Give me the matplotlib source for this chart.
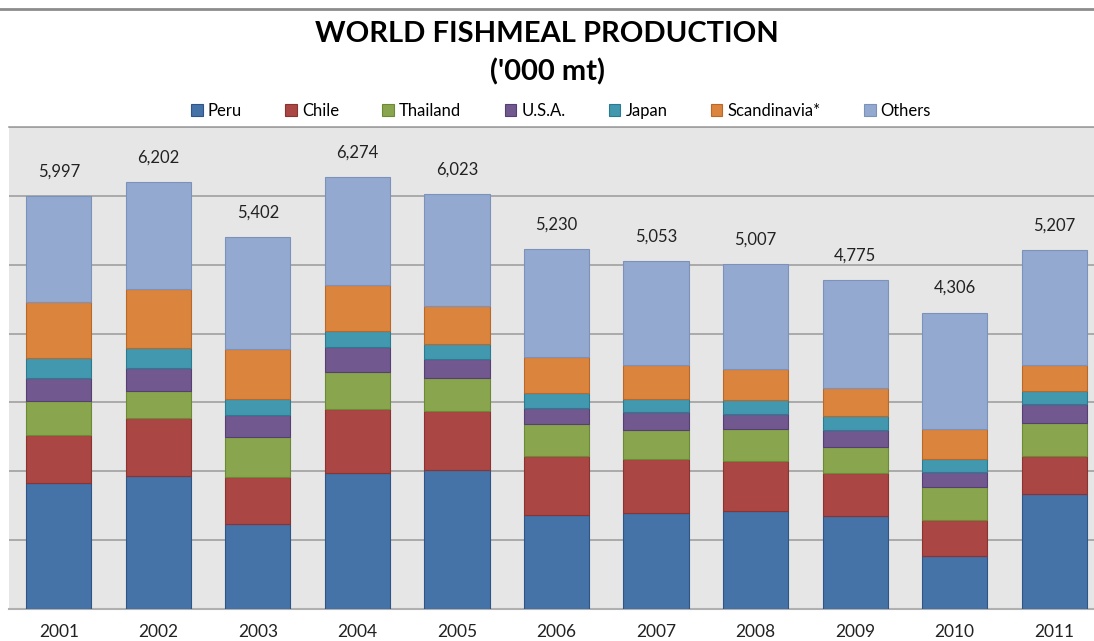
import numpy as np
import matplotlib
matplotlib.use("Agg")
import matplotlib.pyplot as plt
from matplotlib.lines import Line2D
from matplotlib.patches import Patch

plt.rcParams['font.family'] = ['Lato', 'DejaVu Sans']

years = ['2001', '2002', '2003', '2004', '2005', '2006', '2007', '2008', '2009', '2010', '2011']
series_names = ['Peru', 'Chile', 'Thailand', 'U.S.A.', 'Japan', 'Scandinavia*', 'Others']

peru = [1830, 1936, 1237, 1970, 2013, 1364, 1387, 1416, 1344, 771, 1664]
chile = [698, 840, 674, 931, 865, 853, 792, 738, 626, 520, 553]
thailand = [490, 387, 588, 539, 474, 466, 422, 461, 388, 475, 490]
usa = [340, 341, 315, 369, 277, 238, 262, 223, 248, 218, 273]
japan = [291, 291, 233, 233, 218, 213, 194, 204, 194, 195, 179]
scandinavia = [805, 848, 733, 664, 553, 530, 490, 437, 412, 441, 378]
totals = [5997, 6202, 5402, 6274, 6023, 5230, 5053, 5007, 4775, 4306, 5207]
# others = remainder of the labelled total
others = [t - (a + b + c + d + e + f) for t, a, b, c, d, e, f in
          zip(totals, peru, chile, thailand, usa, japan, scandinavia)]

colors = ['#4572A7', '#AA4643', '#89A54E', '#71588F', '#4198AF', '#DB843D', '#93A9CF']
edges = ['#2f5586', '#8a3330', '#6b8a36', '#563f73', '#2c7a90', '#b8682a', '#7d92bb']

fig = plt.figure(figsize=(10.94, 6.41), dpi=100)
ax = fig.add_axes([9 / 1094, 32 / 641, 1095 / 1094, 482 / 641])
ax.set_facecolor('#E6E6E6')

x = np.arange(len(years))
bottom = np.zeros(len(years))
for name, vals, c, ec in zip(series_names,
                             [peru, chile, thailand, usa, japan, scandinavia, others],
                             colors, edges):
    ax.bar(x, vals, width=0.655, bottom=bottom, color=c, edgecolor=ec,
           linewidth=0.8, label=name, zorder=3)
    bottom += np.array(vals)

for xi, t in zip(x, totals):
    ax.annotate('{:,}'.format(t), (xi, t), xytext=(0, 12), textcoords='offset points',
                ha='center', va='bottom', fontsize=12, color='#222222')

ax.set_xlim(-0.5, 10.5)
ax.set_ylim(0, 7000)
ax.set_yticks(np.arange(0, 7001, 1000))
ax.set_yticklabels([])
ax.yaxis.grid(True, color='#A0A0A0', linewidth=1.2, zorder=0)
ax.set_axisbelow(True)
ax.tick_params(axis='both', length=0)
ax.set_xticks(x)
ax.set_xticklabels(years, fontsize=12.5, color='#222222')
ax.tick_params(axis='x', pad=11)
for s in ['left', 'right']:
    ax.spines[s].set_visible(False)
ax.spines['top'].set_color('#A0A0A0')
ax.spines['top'].set_linewidth(1.2)
ax.spines['bottom'].set_color('#B0B0B0')
ax.spines['bottom'].set_linewidth(1.5)

handles = [Patch(facecolor=c, edgecolor=ec, linewidth=0.8) for c, ec in zip(colors, edges)]
fig.legend(handles, series_names, loc='center', bbox_to_anchor=(561 / 1094, 1 - 111 / 641),
           ncol=7, frameon=False, fontsize=12, handlelength=0.7, handleheight=0.7,
           handletextpad=0.3, columnspacing=2.6)

fig.text(547 / 1094, 1 - 34 / 641, "WORLD FISHMEAL PRODUCTION", ha='center',
         va='center', fontsize=21, fontweight='bold')
fig.text(547 / 1094, 1 - 72 / 641, "('000 mt)", ha='center',
         va='center', fontsize=21, fontweight='bold')

fig.add_artist(Line2D([0, 1], [1 - 9 / 641, 1 - 9 / 641], color='#8C8C8C', linewidth=2,
                      transform=fig.transFigure))

fig.savefig('out.png', dpi=100)
